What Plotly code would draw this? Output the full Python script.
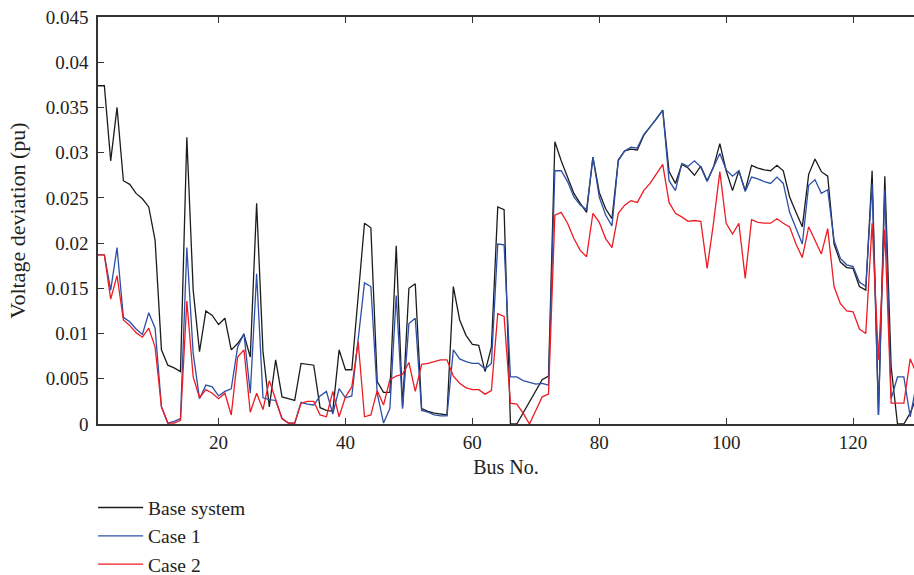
import plotly.graph_objects as go

bus = list(range(1, 131))

base_system = [
    0.0374, 0.0374, 0.0291, 0.0350, 0.0269, 0.0265, 0.0255, 0.0249, 0.0240, 0.0203,
    0.0082, 0.0065, 0.0062, 0.0058, 0.0317, 0.0148, 0.0080, 0.0125, 0.0120, 0.0110,
    0.0117, 0.0082, 0.0089, 0.0099, 0.0074, 0.0244, 0.0080, 0.0019, 0.0071, 0.0030,
    0.0028, 0.0026, 0.0067, 0.0066, 0.0065, 0.0018, 0.0015, 0.0014, 0.0082, 0.0060,
    0.0060, 0.0141, 0.0222, 0.0217, 0.0047, 0.0035, 0.0035, 0.0197, 0.0019, 0.0150,
    0.0155, 0.0017, 0.0014, 0.0012, 0.0011, 0.0010, 0.0152, 0.0115, 0.0098, 0.0088,
    0.0087, 0.0058, 0.0085, 0.0240, 0.0237, 0.0000, 0.0000, 0.0012, 0.0024, 0.0037,
    0.0049, 0.0053, 0.0312, 0.0291, 0.0273, 0.0255, 0.0244, 0.0234, 0.0295, 0.0256,
    0.0238, 0.0227, 0.0292, 0.0302, 0.0304, 0.0303, 0.0319, 0.0328, 0.0337, 0.0347,
    0.0279, 0.0266, 0.0287, 0.0283, 0.0275, 0.0285, 0.0269, 0.0284, 0.0310, 0.0280,
    0.0258, 0.0280, 0.0258, 0.0286, 0.0283, 0.0281, 0.0280, 0.0286, 0.0280, 0.0251,
    0.0234, 0.0218, 0.0276, 0.0293, 0.0279, 0.0274, 0.0199, 0.0179, 0.0173, 0.0172,
    0.0152, 0.0148, 0.0280, 0.0010, 0.0274, 0.0063, 0.0000, 0.0000, 0.0012, 0.0030,
]

case_1 = [
    0.0187, 0.0187, 0.0148, 0.0195, 0.0118, 0.0113, 0.0105, 0.0099, 0.0123, 0.0106,
    0.0019, 0.0001, 0.0003, 0.0006, 0.0195, 0.0078, 0.0028, 0.0043, 0.0041, 0.0031,
    0.0036, 0.0039, 0.0085, 0.0100, 0.0034, 0.0166, 0.0029, 0.0027, 0.0026, 0.0006,
    0.0001, 0.0001, 0.0024, 0.0022, 0.0021, 0.0031, 0.0036, 0.0011, 0.0039, 0.0029,
    0.0031, 0.0093, 0.0156, 0.0152, 0.0034, 0.0001, 0.0017, 0.0142, 0.0017, 0.0111,
    0.0117, 0.0015, 0.0013, 0.0010, 0.0009, 0.0009, 0.0082, 0.0072, 0.0069, 0.0067,
    0.0067, 0.0061, 0.0067, 0.0199, 0.0198, 0.0052, 0.0052, 0.0048, 0.0046, 0.0044,
    0.0045, 0.0043, 0.0280, 0.0280, 0.0268, 0.0251, 0.0242, 0.0237, 0.0295, 0.0251,
    0.0231, 0.0219, 0.0291, 0.0302, 0.0306, 0.0305, 0.0320, 0.0328, 0.0337, 0.0347,
    0.0269, 0.0258, 0.0288, 0.0285, 0.0291, 0.0284, 0.0268, 0.0284, 0.0299, 0.0281,
    0.0274, 0.0280, 0.0257, 0.0273, 0.0271, 0.0268, 0.0266, 0.0273, 0.0266, 0.0234,
    0.0216, 0.0199, 0.0264, 0.0270, 0.0255, 0.0259, 0.0203, 0.0183, 0.0176, 0.0174,
    0.0157, 0.0152, 0.0266, 0.0010, 0.0259, 0.0028, 0.0052, 0.0052, 0.0008, 0.0045,
]

case_2 = [
    0.0187, 0.0187, 0.0138, 0.0164, 0.0115, 0.0109, 0.0101, 0.0096, 0.0106, 0.0085,
    0.0019, 0.0001, 0.0001, 0.0004, 0.0136, 0.0052, 0.0029, 0.0038, 0.0034, 0.0028,
    0.0034, 0.0010, 0.0074, 0.0082, 0.0013, 0.0034, 0.0016, 0.0048, 0.0027, 0.0006,
    0.0001, 0.0001, 0.0023, 0.0025, 0.0025, 0.0010, 0.0008, 0.0036, 0.0008, 0.0030,
    0.0041, 0.0091, 0.0008, 0.0010, 0.0037, 0.0021, 0.0049, 0.0053, 0.0055, 0.0068,
    0.0036, 0.0066, 0.0067, 0.0069, 0.0071, 0.0071, 0.0053, 0.0045, 0.0040, 0.0038,
    0.0038, 0.0033, 0.0037, 0.0122, 0.0119, 0.0023, 0.0022, 0.0012, 0.0000, 0.0015,
    0.0030, 0.0033, 0.0231, 0.0234, 0.0222, 0.0205, 0.0192, 0.0185, 0.0233, 0.0223,
    0.0205, 0.0195, 0.0233, 0.0242, 0.0247, 0.0245, 0.0258, 0.0266, 0.0277, 0.0287,
    0.0245, 0.0233, 0.0229, 0.0224, 0.0225, 0.0224, 0.0172, 0.0222, 0.0279, 0.0222,
    0.0210, 0.0222, 0.0161, 0.0226, 0.0223, 0.0222, 0.0222, 0.0227, 0.0222, 0.0218,
    0.0199, 0.0184, 0.0218, 0.0203, 0.0188, 0.0216, 0.0152, 0.0133, 0.0125, 0.0124,
    0.0105, 0.0100, 0.0222, 0.0071, 0.0215, 0.0023, 0.0023, 0.0023, 0.0072, 0.0056,
]

y_tickvals = [0, 0.005, 0.01, 0.015, 0.02, 0.025, 0.03, 0.035, 0.04, 0.045]
y_ticktext = ["0", "0.005", "0.01", "0.015", "0.02", "0.025", "0.03", "0.035", "0.04", "0.045"]
x_tickvals = [20, 40, 60, 80, 100, 120]

series = [
    ("Base system", base_system, "#1c1c1c"),
    ("Case 1", case_1, "#2d4fa6"),
    ("Case 2", case_2, "#ec1c24"),
]

fig = go.Figure()
for i, (name, vals, col) in enumerate(series):
    fig.add_trace(go.Scatter(
        x=bus, y=vals, mode="lines", name=name,
        line=dict(color=col, width=1.3),
        legendgroup=f"g{i}",
    ))

font_family = "Liberation Serif, Times New Roman, serif"

fig.update_layout(
    width=914, height=575,
    margin=dict(l=98, r=0, t=17, b=151, autoexpand=False),
    paper_bgcolor="white", plot_bgcolor="white",
    font=dict(family=font_family, size=19, color="#222222"),
    showlegend=True,
    legend=dict(
        x=-0.006, y=-0.158, xanchor="left", yanchor="top",
        font=dict(family=font_family, size=19.5, color="#222222"),
        bgcolor="rgba(0,0,0,0)", borderwidth=0,
        itemwidth=45, tracegroupgap=0, traceorder="grouped",
    ),
    xaxis=dict(
        range=[1, 129.6], tickvals=x_tickvals, automargin=False,
        ticks="inside", ticklen=6, tickwidth=1, tickcolor="#333333",
        showline=True, linecolor="#333333", linewidth=1.5, mirror="ticks",
        showgrid=False, zeroline=False,
        tickfont=dict(family=font_family, size=19),
        ticklabelstandoff=0,
        title=dict(text="Bus No.", font=dict(family=font_family, size=20), standoff=8),
    ),
    yaxis=dict(
        range=[0, 0.045], tickvals=y_tickvals, ticktext=y_ticktext, automargin=False,
        ticks="inside", ticklen=6, tickwidth=1, tickcolor="#333333",
        showline=True, linecolor="#333333", linewidth=1.5, mirror=True,
        showgrid=False, zeroline=False,
        tickfont=dict(family=font_family, size=19),
        ticklabelstandoff=4,
        title=dict(text="Voltage deviation (pu)", font=dict(family=font_family, size=22), standoff=14),
    ),
)

fig.write_html(
    "out.html",
    config={"displayModeBar": False},
    post_script="document.body.style.margin='0';document.body.style.overflow='hidden';",
)
